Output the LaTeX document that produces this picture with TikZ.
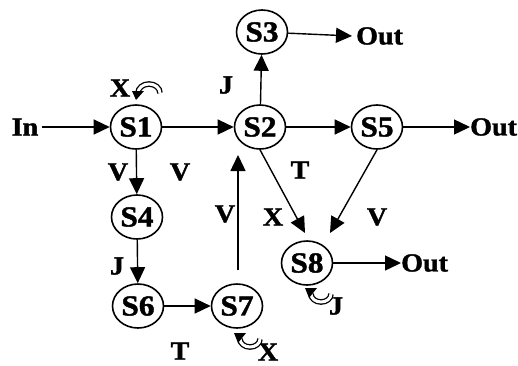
\documentclass[tikz,border=0pt]{standalone}
\usepackage{fontspec}
\setmainfont{Liberation Serif}[FakeStretch=1.08, BoldFeatures={FakeBold=1.5}]
\usetikzlibrary{arrows.meta,shapes.geometric}
\tikzset{
  txt/.style={inner sep=0pt, font=\fontsize{26}{28}\selectfont\bfseries},
  st/.style={inner sep=0pt, font=\fontsize{29}{30}\selectfont\bfseries, draw, ellipse, line width=1.6pt, minimum width=51pt, minimum height=44pt},
  lab/.style={txt},
  arr/.style={line width=1.4pt, -{Triangle[length=16pt,width=15pt]}},
  loopline/.style={line width=1.3pt, double, double distance=3pt},
}
\begin{document}
\begin{tikzpicture}[x=1pt,y=-1pt]
\path[use as bounding box] (0,0) rectangle (518,365);
% states
\node[st] (s1) at (136,127) {S1};
\node[st] (s2) at (260,127) {S2};
\node[st] (s3) at (262,32) {S3};
\node[st] (s5) at (377,127) {S5};
\node[st] (s4) at (137,217) {S4};
\node[st] (s6) at (138,306) {S6};
\node[st] (s7) at (237,306) {S7};
\node[st] (s8) at (307,263) {S8};
% terminals
\node[txt] (in) at (25,127) {In};
\node[txt, anchor=west] (out3) at (356,36) {Out};
\node[txt, anchor=west] (out5) at (470,127) {Out};
\node[txt, anchor=west] (out8) at (401,263) {Out};
% connectors
\draw[arr] (in.east) ++(4,0) -- (s1.west);
\draw[arr] (s1) -- (s2);
\draw[arr] (s2) -- (s5);
\draw[arr] (s5) -- (out5.west);
\draw[arr] (s2) -- (s3);
\draw[arr] (s3) -- ([xshift=-4pt]out3.west);
\draw[arr] (s1) -- (s4);
\draw[arr] (s4) -- (s6);
\draw[arr] (s6) -- (s7);
\draw[arr] (s8) -- (out8.west);
\coordinate (s7top) at (238,270);
\coordinate (s2bot) at (238,155);
\draw[arr] (s7top) -- (s2bot);
\coordinate (s8l) at (305,233);
\coordinate (s8r) at (330,233);
\draw[arr] (s2.south) -- (s8l);
\draw[arr] (s5.south) -- (s8r);
% labels
\node[lab] (lx1) at (120,88) {X};
\node[lab] (lj1) at (226,85) {J};
\node[lab] (lv1) at (118,172) {V};
\node[lab] (lv2) at (180,172) {V};
\node[lab] (lt1) at (300,170) {T};
\node[lab] (lx2) at (273,217) {X};
\node[lab] (lv3) at (377,217) {V};
\node[lab] (lv4) at (225,214) {V};
\node[lab] (lj2) at (117,266) {J};
\node[lab] (lt2) at (180,351) {T};
\node[lab] (lj3) at (336,306) {J};
\node[lab] (lx3) at (268,352) {X};
% self-loop glyphs
\draw[loopline] (160,93) arc (0:-180:11 and 9);
\fill (132,91) -- (144,91) -- (136,100) -- cycle;
\draw[loopline] (240,339) arc (180:0:10 and 8);
\fill (234,333) -- (246,333) -- (238,343) -- cycle;
\draw[loopline] (311,294) arc (180:0:10 and 8);
\fill (305,288) -- (317,288) -- (309,298) -- cycle;
\end{tikzpicture}
\end{document}
